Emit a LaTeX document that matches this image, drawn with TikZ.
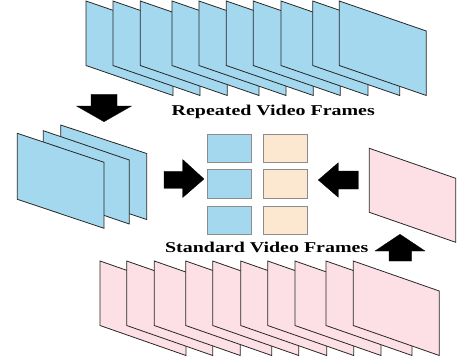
\documentclass[tikz,border=0pt]{standalone}
\usepackage{fontspec}
\setmainfont{Liberation Serif}
\begin{document}
\begin{tikzpicture}[x=1pt,y=-1pt,
  line join=miter,
  framebox/.style={draw=black!85,line width=0.8pt},
  cellbox/.style={draw=black!45,line width=1.1pt},
  blockarrow/.style={fill=black,draw=black,line width=0.3pt},
  caption/.style={font=\fontsize{15}{15}\selectfont\bfseries,inner sep=0pt,anchor=base,xscale=1.33}
]
\definecolor{frameblue}{RGB}{164,216,238}
\definecolor{framepink}{RGB}{253,224,230}
\definecolor{cellblue}{RGB}{163,216,238}
\definecolor{cellpeach}{RGB}{252,232,208}
\useasboundingbox (0,0) rectangle (458,360);

% slanted video frame: #1 left x, #2 top y, #3 width, #4 height, #5 slant, #6 fill
\newcommand{\vframe}[6]{%
  \filldraw[framebox,fill=#6] (#1,#2) -- ++(#3,#5) -- ++(0,#4) -- ++(-#3,-#5) -- cycle;}

% top stack of repeated frames
\foreach \xx in {86,113,140.3,172,199,226.3,253.3,281,312.7,339.3}{
  \vframe{\xx}{1}{87}{64.5}{30}{frameblue}
}

% bottom stack of standard frames
\foreach \xx in {100,126.7,154.3,185.7,212.7,240.7,267.7,295,326,353.3}{
  \vframe{\xx}{261}{86}{64.5}{30}{framepink}
}

% small stack on the left, back to front
\vframe{60.7}{125}{86}{66}{28.5}{frameblue}
\vframe{43.3}{130.7}{86}{64}{29.3}{frameblue}
\vframe{17.3}{133.3}{86.7}{66}{29}{frameblue}

% single frame on the right
\vframe{369.3}{148.3}{86.4}{64}{30}{framepink}

% central grid of cells
\foreach \yy/\nm in {134/a,169.3/b,206/c}{
  \node[cellbox,fill=cellblue,minimum width=43.4pt,minimum height=28.3pt,inner sep=0pt,anchor=north west] (blue\nm) at (207.3,\yy) {};
  \node[cellbox,fill=cellpeach,minimum width=43.4pt,minimum height=28.3pt,inner sep=0pt,anchor=north west] (peach\nm) at (263.3,\yy) {};
}

% block arrows
\filldraw[blockarrow] (91,94.3) -- (117,94.3) -- (117,106) -- (131.5,106) -- (104,121.7) -- (76.5,106) -- (91,106) -- cycle;
\filldraw[blockarrow] (164,171.3) -- (182.7,171.3) -- (182.7,159.5) -- (204,179) -- (182.7,197.5) -- (182.7,188.3) -- (164,188.3) -- cycle;
\filldraw[blockarrow] (358.3,171) -- (338.3,171) -- (338.3,162.7) -- (318.3,180) -- (338.3,197.3) -- (338.3,189) -- (358.3,189) -- cycle;
\filldraw[blockarrow] (389,261) -- (389,251) -- (375,251) -- (400,234.3) -- (425,251) -- (411.5,251) -- (411.5,261) -- cycle;

% captions
\node[caption] (rep) at (273.3,115.5) {Repeated Video Frames};
\node[caption] (std) at (266.7,252) {Standard Video Frames};
\end{tikzpicture}
\end{document}
